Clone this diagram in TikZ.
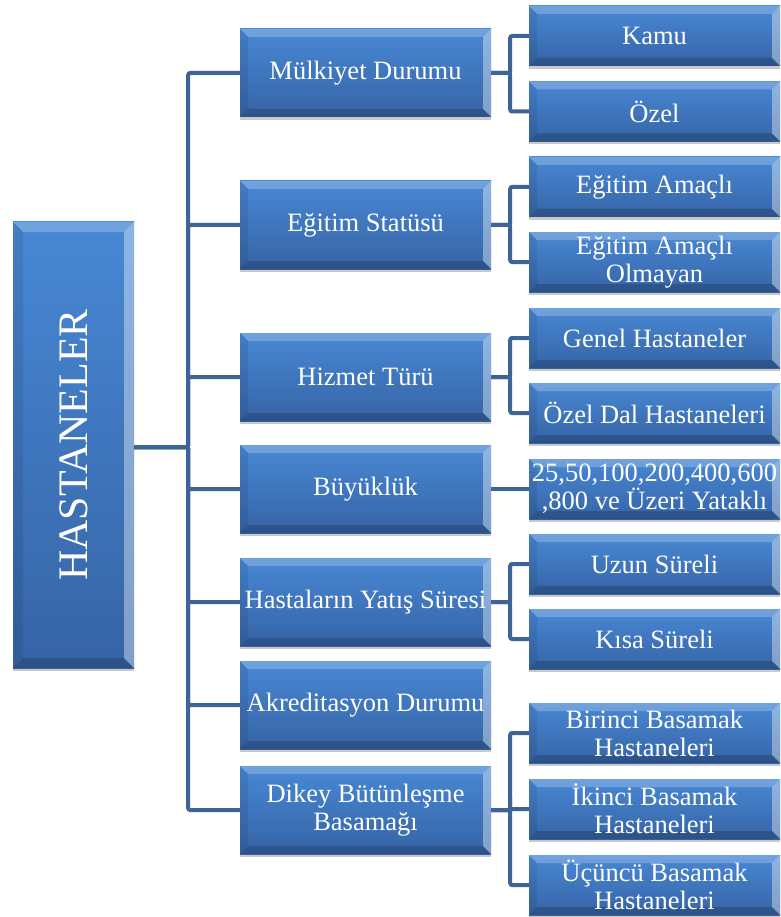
\documentclass[tikz,border=0pt]{standalone}
\usepackage{fontspec}
\usepackage{graphicx}
\setmainfont{Liberation Serif}
\usetikzlibrary{shadows,calc}
\definecolor{boxtop}{RGB}{72,136,212}
\definecolor{boxbot}{RGB}{54,100,166}
\definecolor{conncol}{RGB}{62,100,150}
\tikzset{
  bevel/.style={path picture={
    \fill[white,opacity=0.22] (path picture bounding box.north west) -- (path picture bounding box.north east) -- ([xshift=-#1,yshift=-#1]path picture bounding box.north east) -- ([xshift=#1,yshift=-#1]path picture bounding box.north west) -- cycle;
    \fill[white,opacity=0.38] (path picture bounding box.north east) -- (path picture bounding box.south east) -- ([xshift=-#1,yshift=#1]path picture bounding box.south east) -- ([xshift=-#1,yshift=-#1]path picture bounding box.north east) -- cycle;
    \fill[black,opacity=0.18] (path picture bounding box.south east) -- (path picture bounding box.south west) -- ([xshift=#1,yshift=#1]path picture bounding box.south west) -- ([xshift=-#1,yshift=#1]path picture bounding box.south east) -- cycle;
    \fill[black,opacity=0.08] (path picture bounding box.south west) -- (path picture bounding box.north west) -- ([xshift=#1,yshift=-#1]path picture bounding box.north west) -- ([xshift=#1,yshift=#1]path picture bounding box.south west) -- cycle;
  }},
  basebox/.style={rectangle, inner sep=0pt, align=center, text=white,
    top color=boxtop, bottom color=boxbot, draw=none,
    drop shadow={shadow xshift=0pt, shadow yshift=-3pt, opacity=0.3, fill=black!70},
    font=\fontsize{26.5}{28}\selectfont},
  rootbox/.style={basebox, bevel=10pt, minimum width=121pt, minimum height=446pt,
    font=\fontsize{42}{44}\selectfont},
  lvtwo/.style={basebox, bevel=8pt, minimum width=251pt, minimum height=88pt},
  lvthree/.style={basebox, bevel=8pt, minimum width=251pt, minimum height=60pt},
  conn/.style={draw=conncol, line width=4pt, rounded corners=2pt}
}
\begin{document}
\begin{tikzpicture}[x=1pt,y=-1pt]
\useasboundingbox (0,0) rectangle (780,917);
\node[rootbox] (root) at (73.5,445) {\rotatebox{90}{HASTANELER}};
% level 2
\node[lvtwo] (m) at (365.5,73) {Mülkiyet Durumu};
\node[lvtwo] (e) at (365.5,225) {Eğitim Statüsü};
\node[lvtwo] (h) at (365.5,377) {Hizmet Türü};
\node[lvtwo] (b) at (365.5,489) {Büyüklük};
\node[lvtwo] (y) at (365.5,602) {Hastaların Yatış Süresi};
\node[lvtwo] (a) at (365.5,705) {Akreditasyon Durumu};
\node[lvtwo] (d) at (365.5,810) {Dikey Bütünleşme\\Basamağı};
% level 3
\node[lvthree] (kamu) at (654.5,36) {Kamu};
\node[lvthree] (ozel) at (654.5,111.5) {Özel};
\node[lvthree] (ea) at (654.5,187) {Eğitim Amaçlı};
\node[lvthree] (eao) at (654.5,262) {Eğitim Amaçlı\\Olmayan};
\node[lvthree] (gh) at (654.5,338) {Genel Hastaneler};
\node[lvthree] (odh) at (654.5,413) {Özel Dal Hastaneleri};
\node[lvthree] (bu) at (654.5,489) {25,50,100,200,400,600\\,800 ve Üzeri Yataklı};
\node[lvthree] (uz) at (654.5,564) {Uzun Süreli};
\node[lvthree] (ks) at (654.5,639) {Kısa Süreli};
\node[lvthree] (bi) at (654.5,733) {Birinci Basamak\\Hastaneleri};
\node[lvthree] (ik) at (654.5,809) {İkinci Basamak\\Hastaneleri};
\node[lvthree] (uc) at (654.5,885) {Üçüncü Basamak\\Hastaneleri};
% connectors root -> level 2
\foreach \n in {m,e,h,b,y,a,d}{
  \draw[conn] ([yshift=-2pt]root.east) -- ++(54,0) |- (\n.west);
}
% level 2 -> level 3
\foreach \p/\c in {m/kamu,m/ozel,e/ea,e/eao,h/gh,h/odh,y/uz,y/ks,d/bi,d/ik,d/uc}{
  \draw[conn] (\p.east) -- ++(19,0) |- (\c.west);
}
\draw[conn] (b.east) -- (bu.west);
\end{tikzpicture}
\end{document}
